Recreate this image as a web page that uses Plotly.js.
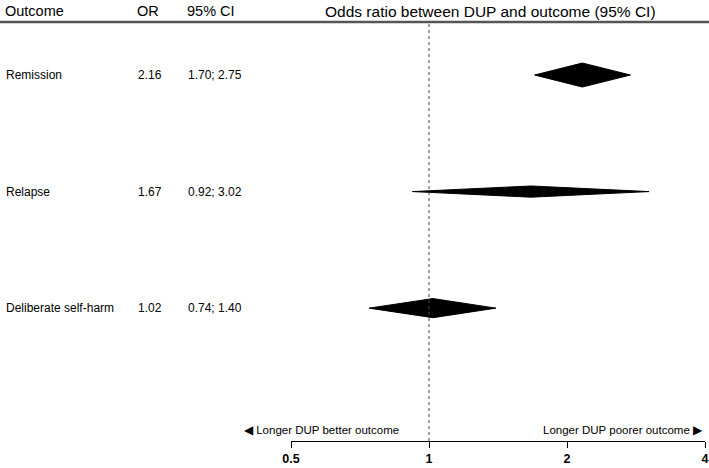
<!DOCTYPE html>
<html>
<head>
<meta charset="utf-8">
<script src="https://cdn.plot.ly/plotly-3.0.1.min.js"></script>
<style>
  body { margin: 0; background: #fff; }
  #myDiv { width: 709px; height: 468px; }
</style>
</head>
<body>
<div id="myDiv"></div>
<script>
var outcomes = ["Remission", "Relapse", "Deliberate self-harm"]
var or_vals = [2.16, 1.67, 1.02]
var ci_low = [1.70, 0.92, 0.74]
var ci_high = [2.75, 3.02, 1.40]
var tickvals = [0.5, 1, 2, 4]
var ticktext = ["0.5", "1", "2", "4"]

// diamond half heights (in row units)
var halfH = [0.103, 0.048, 0.082]

var font = 'Arial, "Liberation Sans", sans-serif'

// plot area starts at 291px, 414px wide
var L = 291, W = 414
function px(x) { return (x - L) / W }

var data = []
for (var i = 0; i < outcomes.length; i++) {
    data.push({
        type: 'scatter',
        mode: 'lines',
        x: [ci_low[i], or_vals[i], ci_high[i], or_vals[i], ci_low[i]],
        y: [i, i - halfH[i], i, i + halfH[i], i],
        fill: 'toself',
        fillcolor: '#000',
        line: {color: '#000', width: 1},
        hoverinfo: 'skip',
        showlegend: false
    })
}

var annotations = []
function txt(x, y, s, size, xref, yref, anchor) {
    annotations.push({
        x: x, y: y, xref: xref || 'paper', yref: yref || 'y',
        text: s, showarrow: false, xanchor: anchor || 'left', yanchor: 'middle',
        font: {family: font, size: size || 12, color: '#000'}
    })
}

// header (paper y: 1 = 22px from top, 419px tall)
var hy = 1 + 11 / 419
txt(px(3), hy, 'Outcome', 14.5, 'paper', 'paper')
txt(px(135), hy, 'OR', 14.5, 'paper', 'paper')
txt(px(185), hy, '95% CI', 14.5, 'paper', 'paper')
txt(px(490), hy, 'Odds ratio between DUP and outcome (95% CI)', 15.5, 'paper', 'paper', 'center')

for (var i = 0; i < outcomes.length; i++) {
    txt(px(4), i, outcomes[i])
    txt(px(136), i, or_vals[i].toFixed(2))
    txt(px(186), i, ci_low[i].toFixed(2) + '; ' + ci_high[i].toFixed(2))
}

var ly = 11 / 419
txt(px(242), ly, '\u25C0 Longer DUP better outcome', 11.5, 'paper', 'paper')
txt(px(705), ly, 'Longer DUP poorer outcome \u25B6', 11.5, 'paper', 'paper', 'right')

var layout = {
    width: 709,
    height: 468,
    margin: {l: L, r: 709 - L - W, t: 22, b: 27},
    paper_bgcolor: '#fff',
    plot_bgcolor: '#fff',
    showlegend: false,
    xaxis: {
        type: 'log',
        range: [Math.log10(0.5), Math.log10(4)],
        tickvals: tickvals,
        ticktext: ticktext,
        ticks: 'outside',
        ticklen: 6,
        tickwidth: 1,
        tickcolor: '#000',
        showline: true,
        linecolor: '#000',
        linewidth: 1,
        showgrid: false,
        zeroline: false,
        tickfont: {family: font, size: 12.5, color: '#000', weight: 'bold'},
        fixedrange: true
    },
    yaxis: {
        range: [3.14, -0.455],
        visible: false,
        showgrid: false,
        zeroline: false,
        fixedrange: true
    },
    shapes: [
        {type: 'line', xref: 'x', yref: 'paper', x0: 1, x1: 1, y0: 0, y1: 1,
         line: {color: '#444', width: 1, dash: 'dot'}},
        {type: 'line', xref: 'paper', yref: 'paper', x0: px(0), x1: px(709), y0: 1, y1: 1,
         line: {color: '#555', width: 2.5}}
    ],
    annotations: annotations
}

Plotly.newPlot('myDiv', data, layout, {displayModeBar: false})
</script>
</body>
</html>
